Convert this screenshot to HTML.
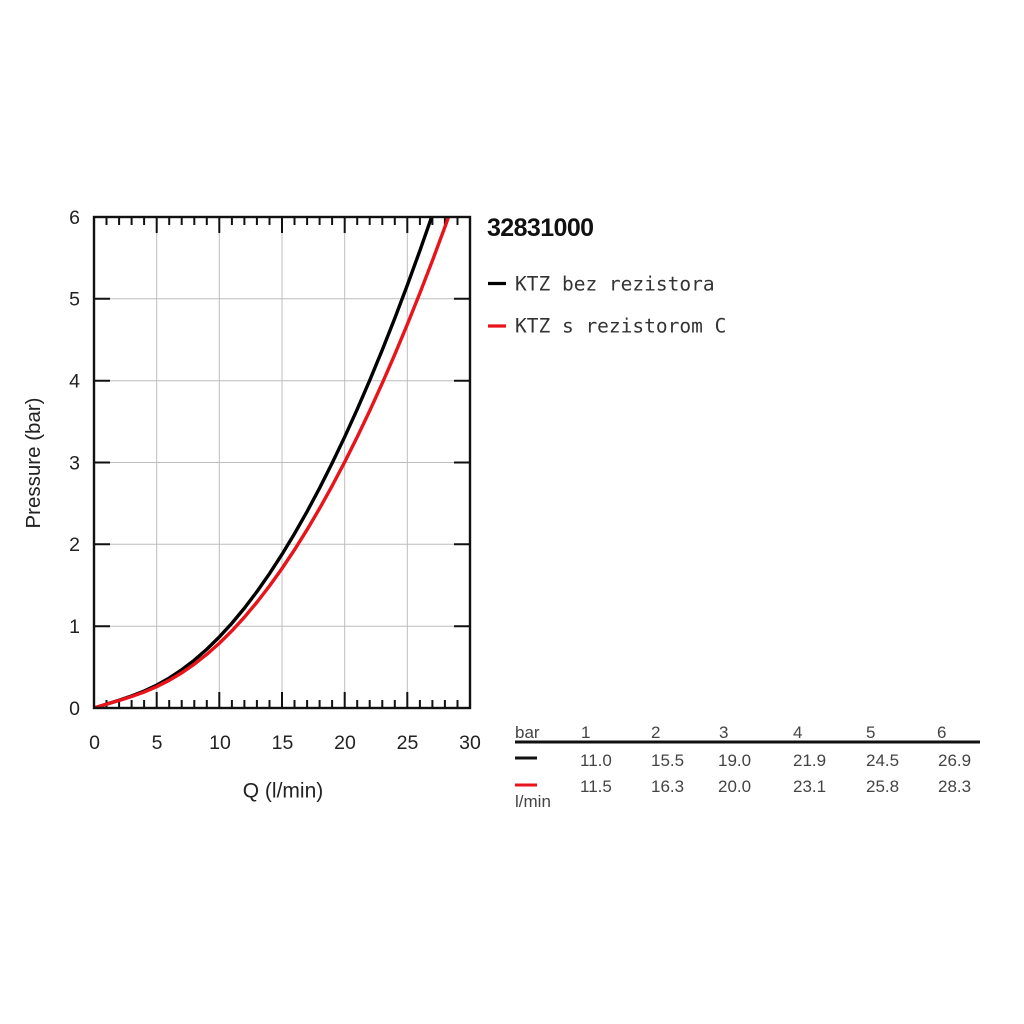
<!DOCTYPE html>
<html><head><meta charset="utf-8"><style>
html,body{margin:0;padding:0;background:#fff;}
svg{display:block;}
</style></head><body>
<svg width="1024" height="1024" viewBox="0 0 1024 1024" xmlns="http://www.w3.org/2000/svg">
<rect width="1024" height="1024" fill="#fff"/>
<defs><clipPath id="pc"><rect x="94" y="217" width="376" height="491"/></clipPath></defs>
<!-- grid -->
<g stroke="#bdbdbd" stroke-width="1">
<line x1="156.7" y1="217" x2="156.7" y2="708"/>
<line x1="219.3" y1="217" x2="219.3" y2="708"/>
<line x1="282" y1="217" x2="282" y2="708"/>
<line x1="344.7" y1="217" x2="344.7" y2="708"/>
<line x1="407.3" y1="217" x2="407.3" y2="708"/>
<line x1="94" y1="626.2" x2="470" y2="626.2"/>
<line x1="94" y1="544.3" x2="470" y2="544.3"/>
<line x1="94" y1="462.5" x2="470" y2="462.5"/>
<line x1="94" y1="380.7" x2="470" y2="380.7"/>
<line x1="94" y1="298.8" x2="470" y2="298.8"/>
</g>
<!-- ticks -->
<g stroke="#111" stroke-width="2">
<path d="M106.5 708v-8M119.1 708v-8M131.6 708v-8M144.1 708v-8M156.7 708v-16M169.2 708v-8M181.7 708v-8M194.3 708v-8M206.8 708v-8M219.3 708v-16M231.9 708v-8M244.4 708v-8M256.9 708v-8M269.5 708v-8M282 708v-16M294.5 708v-8M307.1 708v-8M319.6 708v-8M332.1 708v-8M344.7 708v-16M357.2 708v-8M369.7 708v-8M382.3 708v-8M394.8 708v-8M407.3 708v-16M419.9 708v-8M432.4 708v-8M444.9 708v-8M457.5 708v-8"/>
<path d="M106.5 217v8M119.1 217v8M131.6 217v8M144.1 217v8M156.7 217v16M169.2 217v8M181.7 217v8M194.3 217v8M206.8 217v8M219.3 217v16M231.9 217v8M244.4 217v8M256.9 217v8M269.5 217v8M282 217v16M294.5 217v8M307.1 217v8M319.6 217v8M332.1 217v8M344.7 217v16M357.2 217v8M369.7 217v8M382.3 217v8M394.8 217v8M407.3 217v16M419.9 217v8M432.4 217v8M444.9 217v8M457.5 217v8"/>
<path d="M94 626.2h16M94 544.3h16M94 462.5h16M94 380.7h16M94 298.8h16"/>
<path d="M470 626.2h-16M470 544.3h-16M470 462.5h-16M470 380.7h-16M470 298.8h-16"/>
</g>
<!-- curves -->
<g clip-path="url(#pc)" fill="none" stroke-width="3.4" stroke-linecap="round" stroke-linejoin="round">
<polyline stroke="#000" points="94,708 106.53,704.07 119.07,700.23 131.6,696 144.13,691.04 156.67,685.11 169.2,678.07 181.73,669.78 194.27,660.2 206.8,649.26 219.33,636.95 231.87,623.24 244.4,608.12 256.93,591.6 269.47,573.68 282,554.36 294.53,533.65 307.07,511.54 319.6,488.05 332.13,463.17 344.67,436.93 357.2,409.3 369.73,380.3 382.27,349.93 394.8,318.21 407.33,285.11 419.87,250.67 432.4,214.85 444.93,178"/>
<polyline stroke="#e8141a" points="94,708 106.53,704.14 119.07,700.48 131.6,696.56 144.13,692.04 156.67,686.68 169.2,680.32 181.73,672.87 194.27,664.22 206.8,654.35 219.33,643.23 231.87,630.85 244.4,617.17 256.93,602.23 269.47,586 282,568.5 294.53,549.75 307.07,529.71 319.6,508.41 332.13,485.87 344.67,462.08 357.2,437.03 369.73,410.73 382.27,383.19 394.8,354.42 407.33,324.4 419.87,293.16 432.4,260.68 444.93,226.96 457.47,192.11"/>
</g>
<!-- frame -->
<rect x="94" y="217" width="376" height="491" fill="none" stroke="#111" stroke-width="2.4"/>
<!-- tick labels -->
<g font-family="Liberation Sans, Arial, sans-serif" font-size="19.5" fill="#222">
<g text-anchor="end">
<text x="80" y="714.8">0</text>
<text x="80" y="633">1</text>
<text x="80" y="551.1">2</text>
<text x="80" y="469.3">3</text>
<text x="80" y="387.5">4</text>
<text x="80" y="305.6">5</text>
<text x="80" y="223.8">6</text>
</g>
<g text-anchor="middle">
<text x="94.5" y="748.8">0</text>
<text x="157" y="748.8">5</text>
<text x="220" y="748.8">10</text>
<text x="282.5" y="748.8">15</text>
<text x="345" y="748.8">20</text>
<text x="407.5" y="748.8">25</text>
<text x="470" y="748.8">30</text>
</g>
</g>
<text x="283" y="797.5" text-anchor="middle" font-family="Liberation Sans, Arial, sans-serif" font-size="21" fill="#222">Q (l/min)</text>
<text transform="translate(40 463) rotate(-90)" text-anchor="middle" font-family="Liberation Sans, Arial, sans-serif" font-size="20.5" fill="#222">Pressure (bar)</text>
<!-- title -->
<text x="487" y="236" font-family="Liberation Sans, Arial, sans-serif" font-size="25" font-weight="bold" letter-spacing="-0.6" fill="#111">32831000</text>
<!-- legend -->
<line x1="488" y1="283.5" x2="506" y2="283.5" stroke="#000" stroke-width="3.2"/>
<line x1="488" y1="326" x2="506" y2="326" stroke="#e8141a" stroke-width="3.2"/>
<g font-family="DejaVu Sans Mono, Liberation Mono, monospace" font-size="19.5" fill="#333">
<text x="515" y="290.5">KTZ bez rezistora</text>
<text x="515" y="332.5">KTZ s rezistorom C</text>
</g>
<!-- table -->
<g font-family="Liberation Sans, Arial, sans-serif" font-size="17" fill="#444">
<text x="515" y="738">bar</text>
<text x="581" y="738">1</text>
<text x="651" y="738">2</text>
<text x="719" y="738">3</text>
<text x="793" y="738">4</text>
<text x="866" y="738">5</text>
<text x="937" y="738">6</text>
<text x="580" y="766">11.0</text>
<text x="651" y="766">15.5</text>
<text x="718" y="766">19.0</text>
<text x="793" y="766">21.9</text>
<text x="866" y="766">24.5</text>
<text x="938" y="766">26.9</text>
<text x="580" y="792">11.5</text>
<text x="651" y="792">16.3</text>
<text x="718" y="792">20.0</text>
<text x="793" y="792">23.1</text>
<text x="866" y="792">25.8</text>
<text x="938" y="792">28.3</text>
<text x="515" y="807">l/min</text>
</g>
<line x1="515" y1="742" x2="980" y2="742" stroke="#111" stroke-width="3"/>
<line x1="515" y1="758" x2="537" y2="758" stroke="#111" stroke-width="3"/>
<line x1="515" y1="785" x2="537" y2="785" stroke="#e8141a" stroke-width="3"/>
</svg>
</body></html>
